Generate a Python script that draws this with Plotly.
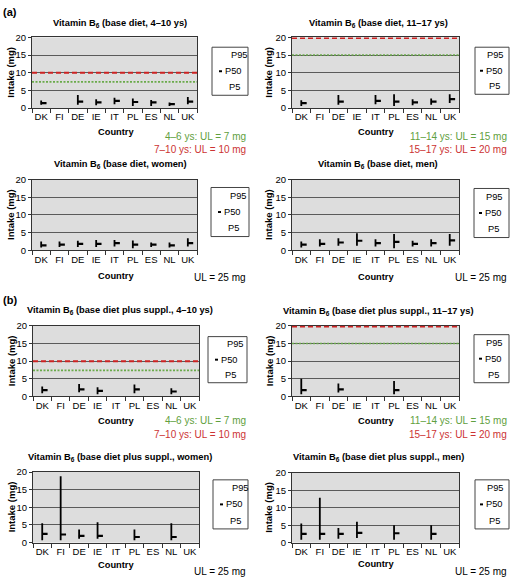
import plotly.graph_objects as go

W, H = 510, 581
FONT = "Liberation Sans, Arial, sans-serif"

countries = ["DK", "FI", "DE", "IE", "IT", "PL", "ES", "NL", "UK"]

# (a) base diet, children 4-10
p5_a_child = [0.9, None, 0.9, 0.8, 1.1, 0.6, 0.6, 0.6, 1.1]
p50_a_child = [1.4, None, 1.8, 1.6, 2.0, 1.7, 1.6, 1.1, 1.8]
p95_a_child = [2.1, None, 3.7, 2.5, 2.9, 2.7, 2.3, 1.6, 3.1]
# (a) base diet, 11-17
p5_a_teen = [0.6, None, 0.9, None, 1.1, 0.6, 0.8, 0.9, 1.4]
p50_a_teen = [1.4, None, 1.8, None, 2.0, 1.8, 1.6, 1.8, 2.5]
p95_a_teen = [2.2, None, 3.7, None, 3.7, 3.9, 2.5, 2.7, 3.9]
# (a) base diet, women
p5_a_women = [0.8, 0.9, 0.9, 0.9, 1.1, 0.6, 0.9, 0.8, 1.1]
p50_a_women = [1.4, 1.6, 1.8, 1.8, 2.0, 1.6, 1.6, 1.4, 2.0]
p95_a_women = [2.5, 2.5, 2.7, 2.9, 2.9, 2.8, 2.2, 2.2, 3.4]
# (a) base diet, men
p5_a_men = [0.8, 1.1, 1.3, 1.3, 1.1, 0.6, 1.1, 1.1, 1.3]
p50_a_men = [1.6, 1.8, 2.2, 2.7, 2.0, 2.4, 1.8, 2.0, 2.8]
p95_a_men = [2.5, 3.1, 3.4, 4.8, 3.1, 4.6, 2.7, 3.1, 4.6]
# (b) base diet plus supplements, children 4-10
p5_b_child = [0.9, None, 1.2, 0.6, None, 0.9, None, 0.6, None]
p50_b_child = [1.8, None, 2.0, 1.6, None, 2.0, None, 1.4, None]
p95_b_child = [2.8, None, 3.5, 2.6, None, 3.4, None, 2.3, None]
# (b) base diet plus supplements, 11-17
p5_b_teen = [0.6, None, 1.1, None, None, 0.6, None, None, None]
p50_b_teen = [1.8, None, 2.0, None, None, 1.8, None, None, None]
p95_b_teen = [5.0, None, 3.7, None, None, 4.4, None, None, None]
# (b) base diet plus supplements, women
p5_b_women = [0.7, 0.7, 1.1, 1.1, None, 0.7, None, 0.7, None]
p50_b_women = [2.5, 2.3, 1.9, 1.9, None, 1.6, None, 1.6, None]
p95_b_women = [5.5, 18.8, 3.7, 5.8, None, 3.7, None, 5.5, None]
# (b) base diet plus supplements, men
p5_b_men = [0.8, 0.8, 1.1, 1.3, None, 0.8, None, 0.8, None]
p50_b_men = [2.5, 2.5, 2.5, 2.8, None, 2.7, None, 2.5, None]
p95_b_men = [5.5, 12.9, 4.2, 6.0, None, 5.0, None, 5.0, None]

# Upper levels drawn as reference lines
ul_child_young = 7.4
ul_child_old = 10.0
ul_teen_young = 15.0
ul_teen_old = 19.8

titles = [
    "Vitamin B<sub>6</sub> (base diet, 4–10 ys)",
    "Vitamin B<sub>6</sub> (base diet, 11–17 ys)",
    "Vitamin B<sub>6</sub> (base diet, women)",
    "Vitamin B<sub>6</sub> (base diet, men)",
    "Vitamin B<sub>6</sub> (base diet plus suppl., 4–10 ys)",
    "Vitamin B<sub>6</sub> (base diet plus suppl., 11–17 ys)",
    "Vitamin B<sub>6</sub> (base diet plus suppl., women)",
    "Vitamin B<sub>6</sub> (base diet plus suppl., men)",
]

RED = "#cc2222"
GREEN = "#6aaa4a"
RED_TXT = "#cc3333"
GREEN_TXT = "#5fa040"

panels = [
    dict(p5=p5_a_child, p50=p50_a_child, p95=p95_a_child, plot=(32, 32, 197, 104), ty=18,
         ul=[(ul_child_young, GREEN, "dot"), (ul_child_old, RED, "dash")],
         ultxt=[("4–6 ys: UL = 7 mg", GREEN_TXT, 133), ("7–10 ys: UL = 10 mg", RED_TXT, 146)],
         leg=(212, 42, 248, 91), cy=128),
    dict(p5=p5_a_teen, p50=p50_a_teen, p95=p95_a_teen, plot=(292, 32, 459, 104), ty=18,
         ul=[(ul_teen_young, GREEN, "dot"), (ul_teen_old, RED, "dash")],
         ultxt=[("11–14 ys: UL = 15 mg", GREEN_TXT, 133), ("15–17 ys: UL = 20 mg", RED_TXT, 146)],
         leg=(475, 42, 509, 90), cy=128),
    dict(p5=p5_a_women, p50=p50_a_women, p95=p95_a_women, plot=(32, 177, 197, 249), ty=162,
         ul=[], ultxt=[("UL = 25 mg", "black", 277)], leg=(211, 185, 249, 235), cy=275),
    dict(p5=p5_a_men, p50=p50_a_men, p95=p95_a_men, plot=(292, 177, 459, 249), ty=162,
         ul=[], ultxt=[("UL = 25 mg", "black", 277)], leg=(474, 186, 509, 236), cy=276),
    dict(p5=p5_b_child, p50=p50_b_child, p95=p95_b_child, plot=(33, 326, 199, 398), ty=310,
         ul=[(ul_child_young, GREEN, "dot"), (ul_child_old, RED, "dash")],
         ultxt=[("4–6 ys: UL = 7 mg", GREEN_TXT, 422), ("7–10 ys: UL = 10 mg", RED_TXT, 437)],
         leg=(208, 337, 247, 384), cy=423),
    dict(p5=p5_b_teen, p50=p50_b_teen, p95=p95_b_teen, plot=(292, 326, 459, 398), ty=311,
         ul=[(ul_teen_young, GREEN, "dot"), (ul_teen_old, RED, "dash")],
         ultxt=[("11–14 ys: UL = 15 mg", GREEN_TXT, 423), ("15–17 ys: UL = 20 mg", RED_TXT, 437)],
         leg=(474, 335, 509, 384), cy=423),
    dict(p5=p5_b_women, p50=p50_b_women, p95=p95_b_women, plot=(33, 475, 199, 547), ty=460,
         ul=[], ultxt=[("UL = 25 mg", "black", 576)], leg=(213, 483, 248, 533), cy=570),
    dict(p5=p5_b_men, p50=p50_b_men, p95=p95_b_men, plot=(292, 476, 459, 547), ty=460,
         ul=[], ultxt=[("UL = 25 mg", "black", 576)], leg=(475, 483, 509, 533), cy=569),
]


def px(x):
    return x / W


def py(y):
    return 1 - y / H


fig = go.Figure()
annotations = []
shapes = []
layout = {}

for k, (pn, title) in enumerate(zip(panels, titles), start=1):
    sfx = "" if k == 1 else str(k)
    xr, yr = f"x{sfx}", f"y{sfx}"
    x0, y0, x1, y1 = pn["plot"]
    left_col = x0 < 250

    # hi-lo lines (P5 to P95)
    xs, ys = [], []
    for i, (lo, hi) in enumerate(zip(pn["p5"], pn["p95"])):
        if lo is None or hi is None:
            continue
        xs += [i, i, None]
        ys += [lo, hi, None]
    fig.add_trace(go.Scatter(x=xs, y=ys, mode="lines", line=dict(color="black", width=1.8),
                             xaxis=xr, yaxis=yr, showlegend=False, hoverinfo="skip"))
    # P50 ticks
    mx = [i + 0.14 for i, v in enumerate(pn["p50"]) if v is not None]
    my = [v for v in pn["p50"] if v is not None]
    fig.add_trace(go.Scatter(x=mx, y=my, mode="markers",
                             marker=dict(symbol="line-ew", size=4, line=dict(color="black", width=2.2)),
                             xaxis=xr, yaxis=yr, showlegend=False, hoverinfo="skip"))

    layout[f"xaxis{sfx}"] = dict(
        domain=[px(x0), px(x1)], anchor=yr, range=[-0.5, 8.5],
        tickmode="array", tickvals=list(range(len(countries))), ticktext=countries,
        ticks="", showgrid=False, zeroline=False,
        showline=True, linecolor="#333", linewidth=1, mirror=True,
        tickfont=dict(family=FONT, size=9.5, color="black"),
        minor=dict(tickmode="linear", tick0=-0.5, dtick=1, ticks="outside", ticklen=4,
                   tickcolor="#333", showgrid=False),
        fixedrange=True,
    )
    layout[f"yaxis{sfx}"] = dict(
        domain=[py(y1), py(y0)], anchor=xr, range=[0, 20],
        tickmode="array", tickvals=[0, 5, 10, 15, 20],
        ticks="outside", ticklen=3, tickcolor="#333",
        showgrid=True, gridcolor="#5a5a5a", gridwidth=1, zeroline=False,
        showline=True, linecolor="#333", linewidth=1, mirror=True,
        tickfont=dict(family=FONT, size=9.5, color="black"),
        fixedrange=True,
    )

    for val, col, dash in pn["ul"]:
        if dash == "dash":
            ln = dict(color=col, width=2, dash="5px,3px")
        else:
            ln = dict(color=col, width=1.6, dash="2px,1.5px")
        shapes.append(dict(type="line", xref=f"{xr} domain", yref=yr, x0=0, x1=1, y0=val, y1=val, line=ln))

    # title
    annotations.append(dict(text=f"<b>{title}</b>", x=px(120 if left_col else 378), y=py(pn["ty"]),
                            xref="paper", yref="paper", showarrow=False, xanchor="center", yanchor="middle",
                            font=dict(family=FONT, size=9.3, color="black")))
    # y title
    annotations.append(dict(text="<b>Intake (mg)</b>", x=px(11 if left_col else 269), y=py((y0 + y1) / 2),
                            xref="paper", yref="paper", showarrow=False, textangle=-90,
                            xanchor="center", yanchor="middle",
                            font=dict(family=FONT, size=9.5, color="black")))
    # x title
    annotations.append(dict(text="<b>Country</b>", x=px(116 if left_col else 376), y=py(pn["cy"]),
                            xref="paper", yref="paper", showarrow=False, xanchor="center", yanchor="middle",
                            font=dict(family=FONT, size=9.3, color="black")))
    # UL texts
    for txt, col, ty in pn["ultxt"]:
        annotations.append(dict(text=txt, x=px(248 if left_col else 509), y=py(ty),
                                xref="paper", yref="paper", showarrow=False, xanchor="right",
                                yanchor="middle", font=dict(family=FONT, size=10, color=col)))
    # legend box
    lx0, ly0, lx1, ly1 = pn["leg"]
    shapes.append(dict(type="rect", xref="paper", yref="paper", x0=px(lx0), x1=px(lx1),
                       y0=py(ly1), y1=py(ly0), line=dict(color="#444", width=1), fillcolor="white"))
    lh = ly1 - ly0
    if left_col:
        o95, osq, o50, o5 = 17, 7, 11, 15
    else:
        o95, osq, o50, o5 = 10, 5, 9, 12
    legfont = dict(family=FONT, size=9.3, color="black")
    annotations.append(dict(text="P95", x=px(lx0 + o95), y=py(ly0 + lh / 6), xref="paper", yref="paper",
                            showarrow=False, xanchor="left", yanchor="middle", font=legfont))
    annotations.append(dict(text="P50", x=px(lx0 + o50), y=py(ly0 + lh / 2), xref="paper", yref="paper",
                            showarrow=False, xanchor="left", yanchor="middle", font=legfont))
    shapes.append(dict(type="rect", xref="paper", yref="paper", x0=px(lx0 + osq), x1=px(lx0 + osq + 3),
                       y0=py(ly0 + lh / 2 + 1), y1=py(ly0 + lh / 2 - 1),
                       line=dict(width=0), fillcolor="black"))
    annotations.append(dict(text="P5", x=px(lx0 + o5), y=py(ly0 + 5 * lh / 6), xref="paper", yref="paper",
                            showarrow=False, xanchor="left", yanchor="middle", font=legfont))

annotations.append(dict(text="<b>(a)</b>", x=px(1), y=py(6), xref="paper", yref="paper", showarrow=False,
                        xanchor="left", yanchor="middle", font=dict(family=FONT, size=11, color="black")))
annotations.append(dict(text="<b>(b)</b>", x=px(1), y=py(300), xref="paper", yref="paper", showarrow=False,
                        xanchor="left", yanchor="middle", font=dict(family=FONT, size=11, color="black")))

fig.update_layout(
    width=W, height=H, autosize=False,
    margin=dict(l=0, r=0, t=0, b=0, pad=0),
    paper_bgcolor="white", plot_bgcolor="#dddddd",
    showlegend=False,
    annotations=annotations, shapes=shapes,
    font=dict(family=FONT, size=9.5, color="black"),
    **layout,
)

fig.write_html(
    "out.html",
    config={"displayModeBar": False},
    post_script="document.body.style.margin='0';document.body.style.overflow='hidden';",
)
